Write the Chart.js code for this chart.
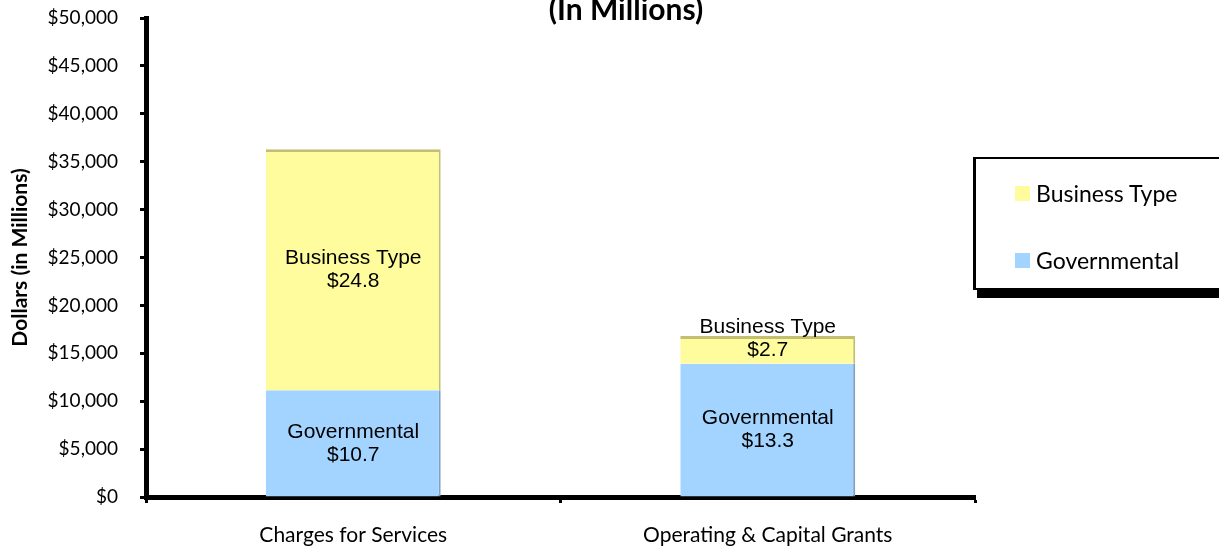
<!DOCTYPE html>
<html lang="en">
<head>
    <meta charset="UTF-8">
    <title>Charges for Services and Grants</title>
    <style>
        body { margin: 0; background: #fff; overflow: hidden; }
        #wrap { position: relative; width: 1219px; height: 548px; }
        #legend {
            position: absolute; left: 973px; top: 157px; width: 300px; height: 133px;
            box-sizing: border-box; background: #fff;
            border-left: 3px solid #000; border-top: 2px solid #000; border-bottom: 2px solid #000;
            box-shadow: 4px 8px 0 #000;
            padding: 24px 0 0 39px;
            font-family: Lato, "Open Sans", sans-serif; font-size: 23px; color: #000;
        }
        #legend .item { display: flex; align-items: center; height: 20px; margin-bottom: 47px; }
        #legend .box { width: 15px; height: 15px; margin-right: 6px; }
    </style>
</head>
<body>
<div id="wrap">
    <canvas id="myChart"></canvas>
    <div id="legend"></div>
</div>

<script src="https://cdn.jsdelivr.net/npm/chart.js@4/dist/chart.umd.min.js"></script>
<script>
    // data (millions of dollars)
    var categories = ['Charges for Services', 'Operating & Capital Grants'];
    var governmental = [11150, 13900];
    var businessType = [25150, 2900];
    var governmentalLabels = ['$10.7', '$13.3'];
    var businessLabels = ['$24.8', '$2.7'];
    var yTicks = [0, 5000, 10000, 15000, 20000, 25000, 30000, 35000, 40000, 45000, 50000];

    var segmentLabels = [governmentalLabels, businessLabels];

    // two-line labels inside each stacked segment
    var barLabels = {
        id: 'barLabels',
        afterDatasetsDraw: function (chart) {
            var ctx = chart.ctx;
            var lineH = 23;
            ctx.save();
            ctx.font = '21px "Liberation Sans", Arial, sans-serif';
            ctx.fillStyle = '#000';
            ctx.textAlign = 'center';
            ctx.textBaseline = 'middle';
            chart.data.datasets.forEach(function (ds, i) {
                var meta = chart.getDatasetMeta(i);
                meta.data.forEach(function (bar, j) {
                    var p = bar.getProps(['x', 'y', 'base'], true);
                    var mid = (p.y + p.base) / 2;
                    var top = (p.base - p.y) < lineH * 2 ? mid - lineH : mid - lineH / 2;
                    ctx.fillText(ds.label, p.x, top);
                    ctx.fillText(segmentLabels[i][j], p.x, top + lineH);
                });
            });
            ctx.restore();
        }
    };

    // second title line (first line is off the top of the picture)
    var topTitle = {
        id: 'topTitle',
        afterDraw: function (chart) {
            var ctx = chart.ctx;
            ctx.save();
            ctx.font = 'bold 30px Lato, "Open Sans", sans-serif';
            ctx.fillStyle = '#000';
            ctx.textAlign = 'center';
            ctx.textBaseline = 'alphabetic';
            ctx.fillText('(In Millions)', 626, 20);
            ctx.restore();
        }
    };

    function buildLegend(chart) {
        var el = document.getElementById('legend');
        el.innerHTML = '';
        chart.data.datasets.slice().reverse().forEach(function (ds) {
            var item = document.createElement('div');
            item.className = 'item';
            item.innerHTML = '<span class="box" style="background:' + ds.backgroundColor + '"></span>' + ds.label;
            el.appendChild(item);
        });
    }

    var ctx = document.getElementById('myChart').getContext('2d');
    var chart = new Chart(ctx, {
        type: 'bar',
        data: {
            labels: categories,
            datasets: [{
                label: 'Governmental',
                data: governmental,
                backgroundColor: '#A3D3FF',
                borderColor: '#7F9FC0',
                borderWidth: { top: 0, right: 2, bottom: 0, left: 0 },
                borderSkipped: false
            }, {
                label: 'Business Type',
                data: businessType,
                backgroundColor: '#FFFC9E',
                borderColor: '#C4BE72',
                borderWidth: { top: 3, right: 2, bottom: 0, left: 0 },
                borderSkipped: false
            }]
        },
        options: {
            responsive: true,
            maintainAspectRatio: false,
            animation: false,
            layout: { padding: { top: 18, right: 244, bottom: 0, left: 0 } },
            datasets: { bar: { categoryPercentage: 1, barPercentage: 0.422 } },
            plugins: {
                legend: { display: false },
                tooltip: { enabled: false }
            },
            scales: {
                x: {
                    stacked: true,
                    afterFit: function (s) { s.height = 51; },
                    border: { display: true, color: '#000', width: 5 },
                    grid: { display: true, offset: true, drawOnChartArea: false, drawTicks: true,
                            tickLength: 6, tickWidth: 3, tickColor: '#000' },
                    ticks: { color: '#000', padding: 20, font: { family: 'Lato', size: 21 } }
                },
                y: {
                    stacked: true,
                    min: 0,
                    max: 50000,
                    afterFit: function (s) { s.width = 146; s.paddingTop = 0; s.paddingBottom = 0; },
                    afterBuildTicks: function (s) { s.ticks = yTicks.map(function (v) { return { value: v }; }); },
                    border: { display: true, color: '#000', width: 5 },
                    grid: { display: true, drawOnChartArea: false, drawTicks: true,
                            tickLength: 6, tickWidth: 3, tickColor: '#000' },
                    ticks: {
                        color: '#000', padding: 22, font: { family: 'Lato', size: 19 },
                        callback: function (v) { return '$' + v.toLocaleString('en-US'); }
                    },
                    title: {
                        display: true, text: 'Dollars (in Millions)', color: '#000',
                        padding: { top: 8, bottom: 0 },
                        font: { family: 'Lato', size: 21, weight: 'bold' }
                    }
                }
            }
        },
        plugins: [barLabels, topTitle]
    });
    buildLegend(chart);
</script>
</body>
</html>
